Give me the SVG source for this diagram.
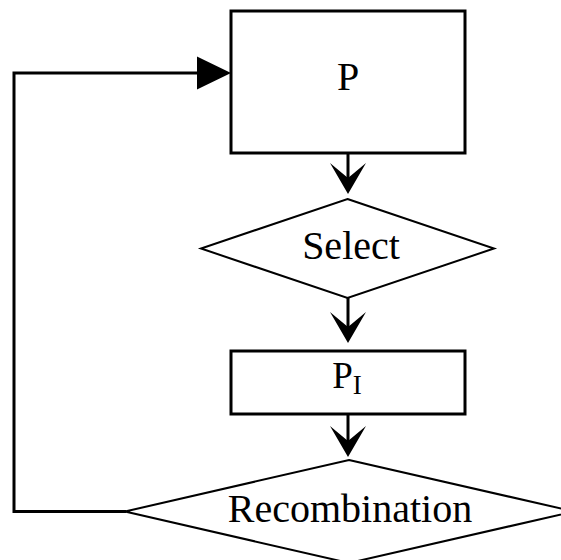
<svg xmlns="http://www.w3.org/2000/svg" width="561" height="560" viewBox="0 0 561 560">
  <style>
    .box { fill: #ffffff; stroke: #000000; stroke-width: 3; }
    .dia { fill: #ffffff; stroke: #000000; stroke-width: 2; }
    .wire { fill: none; stroke: #000000; stroke-width: 3; }
    .head { fill: #000000; stroke: none; }
    .lbl { font-family: "Liberation Serif", "Times New Roman", serif; font-size: 40px; fill: #000000; text-anchor: middle; }
    .sub { font-size: 27px; }
  </style>
  <defs>
    <!-- notched arrowhead pointing down, tip at origin -->
    <path id="down" class="head" d="M0,0 L-18,-31 L0,-16 L18,-31 Z"/>
  </defs>

  <rect width="561" height="560" fill="#ffffff"/>

  <g id="connectors">
    <line class="wire" x1="348" y1="154" x2="348" y2="185"/>
    <use href="#down" x="348" y="194"/>
    <line class="wire" x1="348" y1="298" x2="348" y2="333"/>
    <use href="#down" x="348" y="343"/>
    <line class="wire" x1="348" y1="414" x2="348" y2="447"/>
    <use href="#down" x="348" y="457"/>
    <!-- feedback loop from Recombination back to P -->
    <polyline class="wire" points="126,511.5 14,511.5 14,73 200,73"/>
    <path class="head" d="M231,73 L197,56.5 L197,89.5 Z"/>
  </g>

  <g id="node-p">
    <rect class="box" x="231" y="11" width="234" height="142"/>
    <text class="lbl" x="348" y="90">P</text>
  </g>

  <g id="node-select">
    <polygon class="dia" points="347.5,199 494,248.5 347.5,298 201,248.5"/>
    <text class="lbl" x="351" y="259">Select</text>
  </g>

  <g id="node-pi">
    <rect class="box" x="231" y="351" width="234" height="63"/>
    <text class="lbl" x="347" y="388" style="font-size:37px">P<tspan class="sub" dy="6">I</tspan></text>
  </g>

  <g id="node-recombination">
    <polygon class="dia" points="349,460 574,511.5 349,563 125,511.5"/>
    <text class="lbl" x="350" y="522">Recombination</text>
  </g>
</svg>
